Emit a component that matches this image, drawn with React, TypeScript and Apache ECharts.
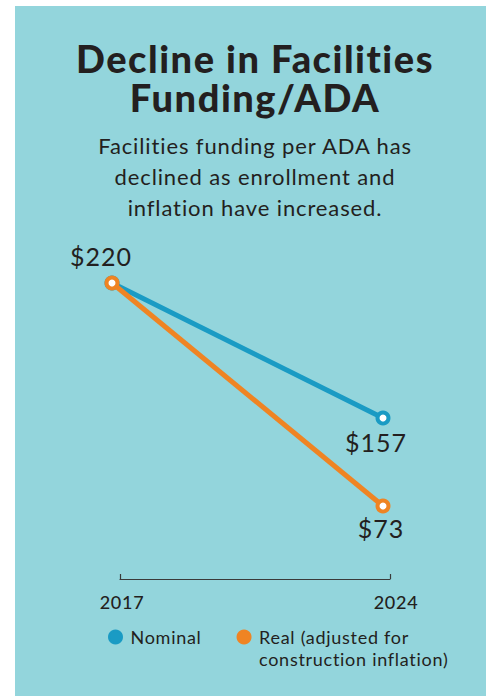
import React, { useEffect, useRef } from "react";
import * as echarts from "echarts";

const years = ["2017", "2024"];
const nominal = [220, 157];
const real = [220, 73];
const seriesNames = ["Nominal", "Real (adjusted for\nconstruction inflation)"];
const titleText = "Decline in Facilities\nFunding/ADA";
const subText = "Facilities funding per ADA has\ndeclined as enrollment and\ninflation have increased.";

const BLUE = "#1a9bc4";
const ORANGE = "#ef8423";
const TEAL = "#93d5dc";
const INK = "#231f20";
const FONT = "Lato";

export default function App() {
  const ref = useRef<HTMLDivElement>(null);
  useEffect(() => {
    if (!ref.current) return;
    const chart = echarts.init(ref.current, null, { renderer: "svg" });
    const fmt = (v: number) => "$" + v;
    chart.setOption({
      animation: false,
      backgroundColor: "#ffffff",
      textStyle: { fontFamily: FONT },
      graphic: [
        { type: "rect", z: -10, shape: { x: 15, y: 6, width: 471, height: 700 }, style: { fill: TEAL } },
      ],
      title: {
        text: titleText,
        subtext: subText,
        left: 250,
        textAlign: "center",
        top: 33,
        itemGap: 14,
        textStyle: { fontFamily: FONT, fontWeight: 900, fontSize: 38, lineHeight: 39, color: INK },
        subtextStyle: { fontFamily: FONT, fontWeight: 400, fontSize: 22, lineHeight: 31, color: INK },
      },
      legend: {
        left: 103,
        top: 599,
        itemWidth: 20,
        itemHeight: 13,
        itemGap: 40,
        icon: "circle",
        formatter: (name: string) => (name === seriesNames[1] ? "\n" + name : name),
        textStyle: { fontFamily: FONT, fontSize: 18, color: INK, lineHeight: 22 },
        data: [
          { name: seriesNames[0], itemStyle: { color: BLUE } },
          { name: seriesNames[1], itemStyle: { color: ORANGE } },
        ],
      },
      grid: [
        { left: 112, width: 271, top: 283, height: 270 },
        { left: 120, width: 270, top: 500, height: 79 },
      ],
      xAxis: [
        { type: "category", gridIndex: 0, data: years, boundaryGap: false, show: false },
        {
          type: "category",
          gridIndex: 1,
          data: years,
          boundaryGap: false,
          axisLine: { lineStyle: { color: "#3a3a3a", width: 1.2 } },
          axisTick: { inside: true, length: 5, lineStyle: { color: "#3a3a3a", width: 1.2 } },
          axisLabel: {
            fontFamily: FONT,
            fontSize: 18,
            color: INK,
            margin: 14,
            fontWeight: 500,
            formatter: (v: string, i: number) => (i === 0 ? "{a|" + v + "}" : "{b|" + v + "}"),
            rich: {
              a: { fontFamily: FONT, fontSize: 18, color: INK, fontWeight: 500, padding: [0, 0, 0, 4] },
              b: { fontFamily: FONT, fontSize: 18, color: INK, fontWeight: 500, padding: [0, 0, 0, 12] },
            },
          },
        },
      ],
      yAxis: [
        { type: "value", gridIndex: 0, min: 94, max: 220, show: false },
        { type: "value", gridIndex: 0, min: 42, max: 220, show: false },
        { type: "value", gridIndex: 1, show: false },
      ],
      series: [
        {
          name: seriesNames[0],
          type: "line",
          xAxisIndex: 0,
          yAxisIndex: 0,
          data: nominal.map((v, i) => ({
            value: v,
            label: {
              show: true,
              position: i === 0 ? "top" : "bottom",
              offset: i === 0 ? [-11, -1] : [-7, -2],
              distance: 6,
            },
          })),
          color: BLUE,
          lineStyle: { width: 5, color: BLUE },
          symbol: "circle",
          symbolSize: 11,
          itemStyle: { color: "#ffffff", borderColor: BLUE, borderWidth: 4 },
          label: { formatter: (p: any) => fmt(p.value), fontFamily: FONT, fontSize: 25, color: INK },
          z: 2,
        },
        {
          name: seriesNames[1],
          type: "line",
          xAxisIndex: 0,
          yAxisIndex: 1,
          data: real.map((v, i) => ({
            value: v,
            label: { show: i > 0, position: "bottom", offset: [-2, -4], distance: 6 },
          })),
          color: ORANGE,
          lineStyle: { width: 5, color: ORANGE },
          symbol: "circle",
          symbolSize: 11,
          itemStyle: { color: "#ffffff", borderColor: ORANGE, borderWidth: 4 },
          label: { formatter: (p: any) => fmt(p.value), fontFamily: FONT, fontSize: 25, color: INK },
          z: 3,
        },
      ],
    });
    return () => chart.dispose();
  }, []);
  return (
    <>
      <style>{`svg text { letter-spacing: 0.04em; font-variant-ligatures: none; font-feature-settings: "liga" 0, "clig" 0; }`}</style>
      <div
        ref={ref}
        style={{ position: "fixed", left: 0, top: 0, width: 491, height: 696 }}
      />
    </>
  );
}
